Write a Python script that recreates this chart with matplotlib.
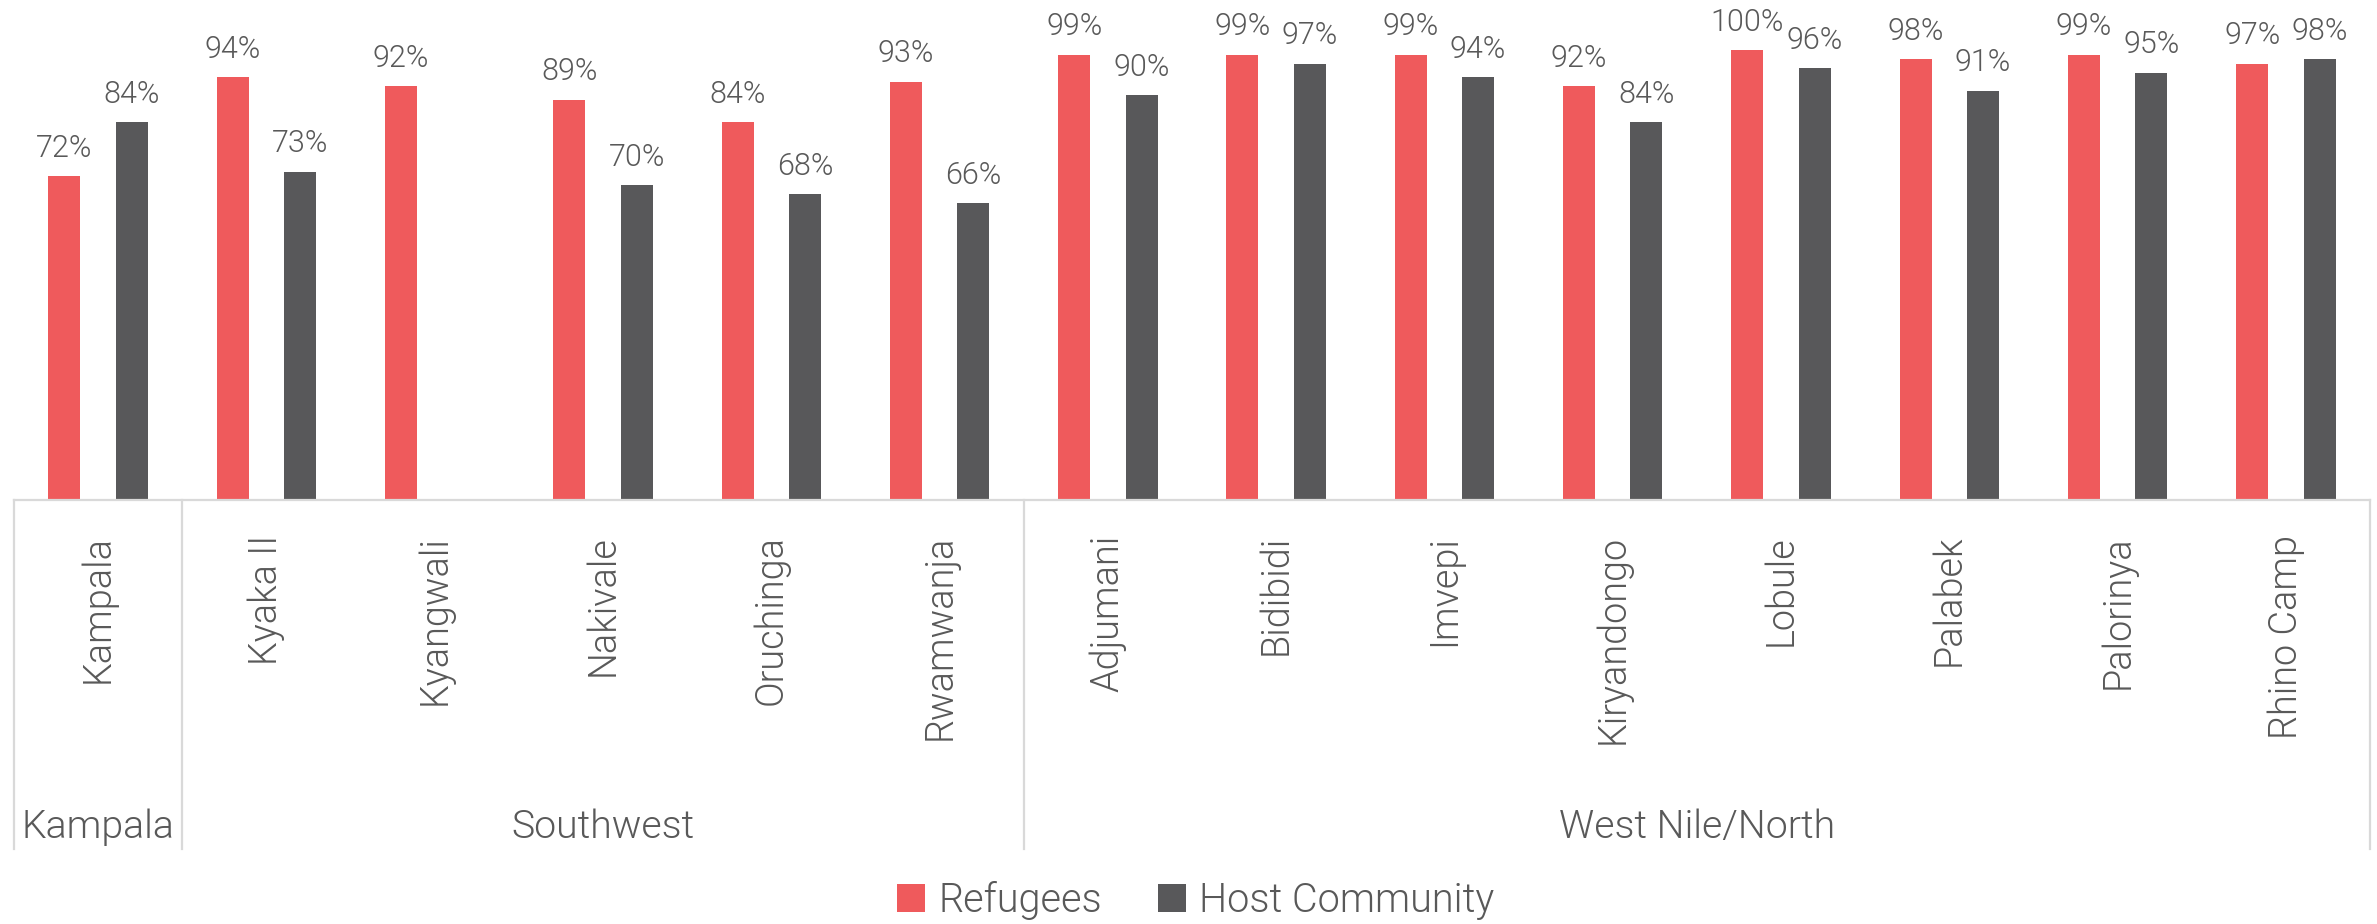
import numpy as np
import matplotlib
matplotlib.use('Agg')
import matplotlib.pyplot as plt
import matplotlib.transforms as mtransforms
from matplotlib.patches import Patch

# data
camps = ['Kampala', 'Kyaka II', 'Kyangwali', 'Nakivale', 'Oruchinga', 'Rwamwanja',
         'Adjumani', 'Bidibidi', 'Imvepi', 'Kiryandongo', 'Lobule', 'Palabek',
         'Palorinya', 'Rhino Camp']
regions = ['Kampala', 'Southwest', 'West Nile/North']
region_sizes = [1, 5, 8]
refugees = [72, 94, 92, 89, 84, 93, 99, 99, 99, 92, 100, 98, 99, 97]
host = [84, 73, np.nan, 70, 68, 66, 90, 97, 94, 84, 96, 91, 95, 98]
series_names = ['Refugees', 'Host Community']

red = '#EF5A5C'
grey = '#58585A'
txt = '#595959'
line_c = '#D9D9D9'
fam = ['Roboto', 'DejaVu Sans']
wt = 300  # Roboto Light

W, H = 2377, 924
fig = plt.figure(figsize=(W/100, H/100), dpi=100)
# axes box in pixels: left 14, right 2370, baseline y=500, top y=5
ax = fig.add_axes([14/W, (H-500)/H, 2356/W, 495/H])

x = np.arange(len(camps))
ref = np.array(refugees)/100.0
hst = np.array(host, dtype=float)/100.0
bw = 0.19
ax.bar(x-0.2, ref, bw, color=red, edgecolor='none')
ax.bar(x+0.2, np.nan_to_num(hst), bw, color=grey, edgecolor='none')

# data labels
lab_font = dict(family=fam, weight=wt, size=22, color=txt)
for xi, v in zip(x, ref):
    ax.annotate('%d%%' % round(v*100), (xi-0.2, v), xytext=(0, 14), textcoords='offset points',
                ha='center', va='baseline', **lab_font)
for xi, v in zip(x, hst):
    if np.isnan(v):  # no host community value for Kyangwali
        continue
    ax.annotate('%d%%' % round(v*100), (xi+0.2, v), xytext=(0, 14), textcoords='offset points',
                ha='center', va='baseline', **lab_font)

ax.set_xlim(-0.5, len(camps)-0.5)
ax.set_ylim(0, 1.1)
for s in ax.spines.values():
    s.set_visible(False)
ax.set_xticks([])
ax.set_yticks([])
ax.axhline(0, color=line_c, lw=1.6, clip_on=False)

trans = mtransforms.blended_transform_factory(ax.transData, ax.transAxes)
# category labels (rotated)
for xi, name in zip(x, camps):
    ax.text(xi, -35/495, name, transform=trans, rotation=90, ha='center', va='top',
            family=fam, weight=wt, size=27.3, color=txt)

# group separators and region labels
bottom = -(849-500)/495
edges = np.concatenate([[0], np.cumsum(region_sizes)]) - 0.5
for e in edges:
    ax.plot([e, e], [0, bottom], transform=trans, color=line_c, lw=1.6, clip_on=False)
for i, reg in enumerate(regions):
    ax.text((edges[i]+edges[i+1])/2, -(838-500)/495, reg, transform=trans, ha='center',
            va='baseline', family=fam, weight=wt, size=28.3, color=txt)

# legend
handles = [Patch(facecolor=red), Patch(facecolor=grey)]
leg = fig.legend(handles, series_names, loc='center', bbox_to_anchor=(1196/W, 1-900/H), ncol=2,
                 frameon=False, handlelength=0.7, handleheight=0.7, handletextpad=0.35,
                 columnspacing=1.4, prop=dict(family=fam, weight=wt, size=28.5))
for t in leg.get_texts():
    t.set_color(txt)

plt.savefig('out.png', dpi=100)
